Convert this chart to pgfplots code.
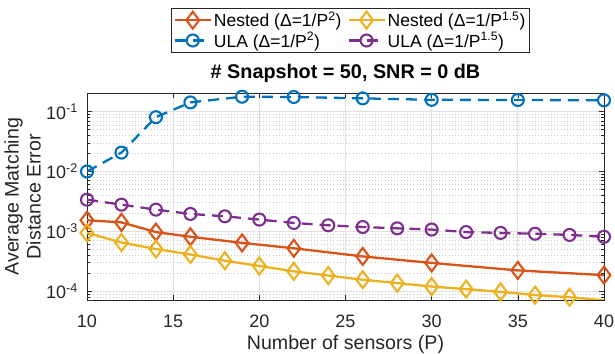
\documentclass[border=0pt]{standalone}
\usepackage{fontspec}
\setmainfont{Liberation Sans}
\usepackage{pgfplots}
\pgfplotsset{compat=1.18}
\definecolor{mred}{rgb}{0.850,0.325,0.098}
\definecolor{myel}{rgb}{0.929,0.694,0.125}
\definecolor{mblue}{rgb}{0,0.447,0.741}
\definecolor{mpur}{rgb}{0.494,0.184,0.556}
\definecolor{axgray}{rgb}{0.15,0.15,0.15}
\begin{document}
\begin{tikzpicture}
\begin{axis}[
  name=ax,
  scale only axis,
  width=517pt, height=206.7pt,
  xmode=normal, ymode=log,
  xmin=10, xmax=40,
  ymin=7.1e-5, ymax=0.203,
  xtick={10,15,20,25,30,35,40},
  ytick={1e-4,1e-3,1e-2,1e-1},
  yticklabels={10\textsuperscript{-4},10\textsuperscript{-3},10\textsuperscript{-2},10\textsuperscript{-1}},
  minor ytick={8e-5,9e-5,2e-4,3e-4,4e-4,5e-4,6e-4,7e-4,8e-4,9e-4,2e-3,3e-3,4e-3,5e-3,6e-3,7e-3,8e-3,9e-3,2e-2,3e-2,4e-2,5e-2,6e-2,7e-2,8e-2,9e-2,2e-1},
  minor x tick num=0,
  /pgf/number format/assume math mode=true,
  grid=both,
  major grid style={black!12, line width=0.7pt},
  minor grid style={black!22, line width=0.6pt, dash pattern=on 0.6pt off 2.6pt},
  axis line style={axgray, line width=0.7pt},
  tick style={axgray, line width=0.6pt},
  major tick length=5pt, minor tick length=3pt,
  ticklabel style={font=\fontsize{18}{21}\selectfont, text=axgray},
  xticklabel style={inner sep=0pt, yshift=-15pt},
  yticklabel style={inner sep=0pt, xshift=-9pt},
  xlabel={Number of sensors (P)},
  xlabel style={font=\fontsize{19.6}{22}\selectfont, text=axgray, at={(axis description cs:0.5,-0.2415)}, anchor=base, inner sep=0pt},
  ylabel={Average Matching\\Distance Error},
  ylabel style={font=\fontsize{19.6}{22}\selectfont, text=axgray, align=center, at={(axis description cs:-0.089,0.5)}, anchor=south, inner sep=0pt},
  title={\# Snapshot = 50, SNR = 0 dB},
  title style={font=\fontsize{19.8}{22}\selectfont\bfseries, at={(axis description cs:0.5,1)}, anchor=base, yshift=8.3pt, inner sep=0pt},
  legend columns=2,
  legend cell align=left,
  legend style={at={(axis description cs:0.5097,1)}, anchor=south, yshift=40.3pt,
    font=\fontsize{17.5}{20}\selectfont, draw=axgray, line width=0.7pt,
    inner xsep=2pt, inner ysep=2pt,
    /tikz/every even column/.append style={column sep=4pt}},
  legend image code/.code={\draw[mark repeat=2,mark phase=2] plot coordinates {(0pt,0pt) (18pt,0pt) (36pt,0pt)};},
]
\addplot[mred, line width=2.3pt, mark=diamond, mark size=8.5pt, mark options={solid, line width=2.1pt}] coordinates {
 (10,0.00153) (12,0.00141) (14,0.00097) (16,0.00081) (19,0.00064) (22,0.00052) (26,0.00038) (30,0.000296) (35,0.000222) (40,0.000185)};
\addlegendentry{Nested (Δ=1/P\textsuperscript{2})}
\addplot[myel, line width=2.3pt, mark=diamond, mark size=8.5pt, mark options={solid, line width=2.1pt}] coordinates {
 (10,0.00094) (12,0.00065) (14,0.000505) (16,0.00041) (18,0.000322) (20,0.000263) (22,0.000214) (24,0.000182) (26,0.000155) (28,0.000136) (30,0.000119) (32,0.000108) (34,0.000097) (36,0.000086) (38,0.000079)};
\addlegendentry{Nested (Δ=1/P\textsuperscript{1.5})}
\addplot[myel, line width=2.3pt, no marks, forget plot] coordinates {(38,0.000079) (40,0.000070)};
\addplot[mblue, line width=2.3pt, dash pattern=on 11pt off 7pt, mark=o, mark size=6pt, mark options={solid, line width=2.1pt}] coordinates {
 (10,0.0100) (12,0.0207) (14,0.081) (16,0.143) (19,0.178) (22,0.176) (26,0.167) (30,0.158) (35,0.157) (40,0.155)};
\addlegendentry{ULA (Δ=1/P\textsuperscript{2})}
\addplot[mpur, line width=2.3pt, dash pattern=on 11pt off 7pt, mark=o, mark size=6pt, mark options={solid, line width=2.1pt}] coordinates {
 (10,0.00338) (12,0.00279) (14,0.0023) (16,0.00195) (18,0.00178) (20,0.00157) (22,0.00138) (24,0.00126) (26,0.00118) (28,0.00112) (30,0.00107) (32,0.00097) (34,0.00094) (36,0.00091) (38,0.00087) (40,0.00081)};
\addlegendentry{ULA (Δ=1/P\textsuperscript{1.5})}
\end{axis}
\pgfresetboundingbox
\path[use as bounding box] ([xshift=-87pt,yshift=-54pt]ax.south west) rectangle ([xshift=11pt,yshift=93.3pt]ax.north east);
\end{tikzpicture}
\end{document}
